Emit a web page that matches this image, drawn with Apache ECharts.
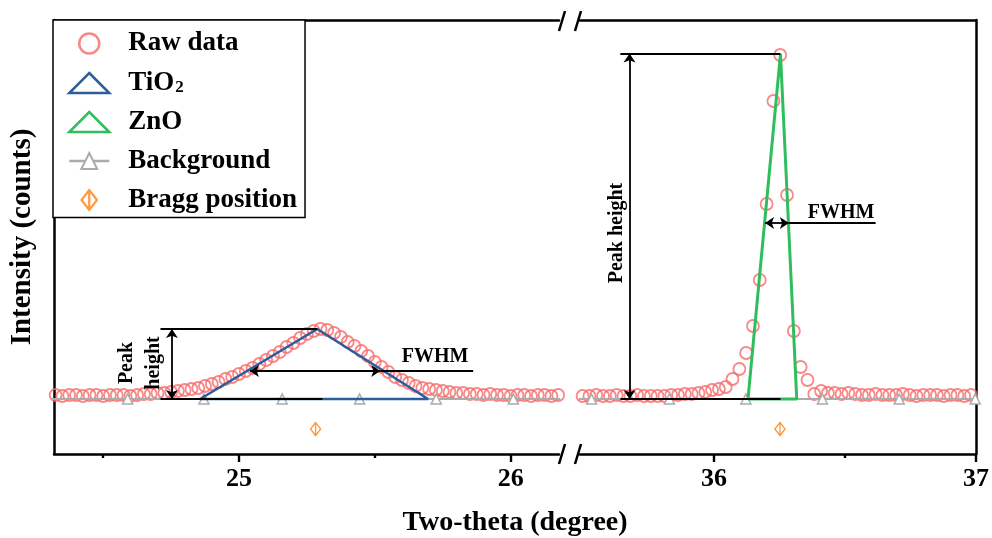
<!DOCTYPE html>
<html><head><meta charset="utf-8">
<script src="https://cdn.jsdelivr.net/npm/echarts@6/dist/echarts.min.js"></script>
<style>html,body{margin:0;padding:0;background:#fff}#c{width:992px;height:538px}</style>
</head><body><div id="c"></div>
<script>
// ---------- data ----------
const leftTheta = [24.325,24.350,24.375,24.400,24.425,24.450,24.475,24.500,24.525,24.550,24.575,24.600,24.625,24.650,24.675,24.700,24.725,24.750,24.775,24.800,24.825,24.850,24.875,24.900,24.925,24.950,24.975,25.000,25.025,25.050,25.075,25.100,25.125,25.150,25.175,25.200,25.225,25.250,25.275,25.300,25.325,25.350,25.375,25.400,25.425,25.450,25.475,25.500,25.525,25.550,25.575,25.600,25.625,25.650,25.675,25.700,25.725,25.750,25.775,25.800,25.825,25.850,25.875,25.900,25.925,25.950,25.975,26.000,26.025,26.050,26.075,26.100,26.125,26.150,26.175];
const leftRaw = [4,3,4,4,3,4,4,3,4,4,4,3,4,5,5,6,6,7,8,9,10,11,13,15,17,20,22,25,28,31,35,39,43,47,52,56,61,65,68,70,69,66,62,57,53,48,43,37,32,27,22,19,16,13,11,10,9,8,7,6,6,5,5,4,5,4,4,3,4,4,3,4,4,3,4];
const rightTheta = [35.499,35.525,35.551,35.577,35.603,35.629,35.655,35.681,35.707,35.733,35.759,35.785,35.811,35.837,35.863,35.889,35.915,35.941,35.967,35.993,36.019,36.045,36.071,36.097,36.123,36.149,36.175,36.201,36.227,36.253,36.279,36.305,36.331,36.357,36.383,36.409,36.435,36.461,36.487,36.513,36.539,36.565,36.591,36.617,36.643,36.669,36.695,36.721,36.747,36.773,36.799,36.825,36.851,36.877,36.903,36.929,36.955,36.981];
const rightRaw = [3,3,4,3,3,4,3,3,4,3,3,3,3,4,4,5,5,6,7,9,10,12,20,30,46,73,119,195,298,344,204,68,32,19,5,8,6,6,5,6,5,4,4,5,4,4,4,5,4,3,4,4,4,3,4,4,3,4];
const tio2Theta = [24.857,25.288,25.696,24.857];
const tio2Value = [0,70,0,0];
const znoTheta = [36.130,36.254,36.316,36.130];
const znoValue = [0,345,0,0];
const bgLeftTheta = [24.306,24.590,24.871,25.159,25.444,25.726,26.010,26.294];
const bgRightTheta = [35.240,35.533,35.830,36.122,36.414,36.707,36.997,37.290];
const bgLevel = 0;
const braggLeftTheta = [25.282];
const braggRightTheta = [36.252];
const braggLevel = -30;
const leftMajorTicks = [25,26];
const leftMinorTicks = [24.5,25.5];
const rightMajorTicks = [36,37];
const rightMinorTicks = [36.5];
const leftRange = [24.319,26.178];
const rightRange = [35.489,37];
const yRange = [-55,379];
// annotation values (data coords)
const tio2PeakH = {x:24.753, top:70, lineFrom:24.711, lineTo:25.288, baseTo:25.307};
const tio2Fwhm = {y:28, from:25.04, to:25.52, ext:25.862};
const znoPeakH = {x:35.678, top:345.5, lineFrom:35.643, lineTo:36.254, baseTo:36.254};
const znoFwhm = {y:176, from:36.195, to:36.286, ext:36.617};

// ---------- styles ----------
const SERIF = "'Liberation Serif','Times New Roman',serif";
const RED = '#f76a6a', BLUE = '#2c5e9c', GREEN = '#2fbd5d', GRAY = '#ababab', ORANGE = '#ff7f0e';
const BRAGG_PATH = 'path://M5,0 L10,6.5 L5,13 L0,6.5 Z M5,0 L5,13';

const zip = (xs, ys) => xs.map((x, i) => [x, ys[i]]);
const flat = (xs, v) => xs.map(x => [x, v]);

function mline(pairs) {
  return {
    silent: true, animation: false,
    symbol: 'none', symbolSize: 9,
    label: {show: false},
    lineStyle: {color: '#000', width: 1.8, type: 'solid'},
    emphasis: {disabled: true},
    data: pairs
  };
}
const seg = (x1, y1, x2, y2, a1, a2) => [
  {coord: [x1, y1], symbol: a1 ? 'arrow' : 'none'},
  {coord: [x2, y2], symbol: a2 ? 'arrow' : 'none'}
];

const chart = echarts.init(document.getElementById('c'), null, {renderer: 'canvas'});

const axisLineStyle = {show: true, onZero: false, lineStyle: {color: '#000', width: 2.5}};
const labelStyle = {fontSize: 26, fontWeight: 'bold', fontFamily: SERIF, color: '#000'};

function tickAxis(gi, range, values, len) {
  return {gridIndex: gi, type: 'value', min: range[0], max: range[1], position: 'bottom',
    axisLine: {show: false, onZero: false},
    axisTick: {show: true, customValues: values, length: len, lineStyle: {color: '#000', width: 2.4}},
    axisLabel: {show: false}, splitLine: {show: false}};
}
function xAxes(gi, range, major, minor) {
  return [
    {gridIndex: gi, type: 'value', min: range[0], max: range[1], position: 'bottom',
     axisLine: axisLineStyle,
     axisTick: {show: false},
     axisLabel: Object.assign({show: true, customValues: major, margin: 12}, labelStyle),
     splitLine: {show: false}},
    tickAxis(gi, range, major, 8),
    tickAxis(gi, range, minor, 4),
    {gridIndex: gi, type: 'value', min: range[0], max: range[1], position: 'top',
     axisLine: axisLineStyle, axisTick: {show: false}, axisLabel: {show: false}, splitLine: {show: false}}
  ];
}

const option = {
  animation: false,
  backgroundColor: '#fff',
  grid: [
    {left: 53, right: 433, top: 20, bottom: 84},
    {left: 580, right: 13, top: 20, bottom: 84}
  ],
  xAxis: xAxes(0, leftRange, leftMajorTicks, leftMinorTicks).concat(xAxes(1, rightRange, rightMajorTicks, rightMinorTicks)),
  yAxis: [
    {gridIndex: 0, type: 'value', min: yRange[0], max: yRange[1], position: 'left',
     axisLine: axisLineStyle, axisTick: {show: false}, axisLabel: {show: false}, splitLine: {show: false},
     name: 'Intensity (counts)', nameLocation: 'middle', nameGap: 17,
     nameTextStyle: {fontSize: 29, fontWeight: 'bold', fontFamily: SERIF, color: '#000'}},
    {gridIndex: 1, type: 'value', min: yRange[0], max: yRange[1], position: 'right',
     axisLine: axisLineStyle, axisTick: {show: false}, axisLabel: {show: false}, splitLine: {show: false}}
  ],
  legend: {
    orient: 'vertical', left: 53, top: 20,
    padding: [10, 8, 4, 15],
    itemGap: 12, itemWidth: 40, itemHeight: 20,
    borderColor: '#000', borderWidth: 1.5, backgroundColor: '#fff',
    selectedMode: false,
    textStyle: {fontSize: 27, fontWeight: 'bold', fontFamily: SERIF, color: '#000', lineHeight: 26, padding: [0, 0, 0, 14],
      rich: {s: {fontSize: 17, fontWeight: 'bold', fontFamily: SERIF, color: '#000', verticalAlign: 'bottom', lineHeight: 22, padding: [10, 0, 0, 1]}}},
    formatter: n => n === 'TiO2' ? 'TiO{s|2}' : n,
    data: [
      {name: 'Raw data', icon: 'circle', itemStyle: {color: '#fff', borderColor: RED, borderWidth: 2.5}},
      {name: 'TiO2', icon: 'triangle', itemStyle: {color: '#fff', borderColor: BLUE, borderWidth: 2.5}},
      {name: 'ZnO', icon: 'triangle', itemStyle: {color: '#fff', borderColor: GREEN, borderWidth: 2.5}},
      {name: 'Background', itemStyle: {color: '#fff', borderColor: GRAY, borderWidth: 2}, lineStyle: {color: GRAY, width: 2.5}},
      {name: 'Bragg position', icon: BRAGG_PATH, itemStyle: {color: 'rgba(0,0,0,0)', borderColor: ORANGE, borderWidth: 2.2}}
    ]
  },
  series: [
    {name: 'Raw data', type: 'scatter', xAxisIndex: 0, yAxisIndex: 0, data: zip(leftTheta, leftRaw),
     symbol: 'circle', symbolSize: 12, clip: true, z: 2,
     itemStyle: {color: 'rgba(0,0,0,0)', borderColor: RED, borderWidth: 1.8}},
    {name: 'Raw data', type: 'scatter', xAxisIndex: 4, yAxisIndex: 1, data: zip(rightTheta, rightRaw),
     symbol: 'circle', symbolSize: 12, clip: true, z: 2,
     itemStyle: {color: 'rgba(0,0,0,0)', borderColor: RED, borderWidth: 1.8}},
    {name: 'Background', type: 'line', xAxisIndex: 0, yAxisIndex: 0, data: flat(bgLeftTheta, bgLevel),
     symbol: 'triangle', symbolSize: 10, showAllSymbol: true, clip: true, z: 3,
     lineStyle: {color: GRAY, width: 2}, itemStyle: {color: '#fff', borderColor: GRAY, borderWidth: 1.5}},
    {name: 'Background', type: 'line', xAxisIndex: 4, yAxisIndex: 1, data: flat(bgRightTheta, bgLevel),
     symbol: 'triangle', symbolSize: 10, showAllSymbol: true, clip: true, z: 3,
     lineStyle: {color: GRAY, width: 2}, itemStyle: {color: '#fff', borderColor: GRAY, borderWidth: 1.5}},
    {name: 'TiO2', type: 'line', xAxisIndex: 0, yAxisIndex: 0, data: zip(tio2Theta, tio2Value),
     symbol: 'none', z: 4, lineStyle: {color: BLUE, width: 2.6}, itemStyle: {color: BLUE},
     markLine: mline([
       seg(tio2PeakH.lineFrom, tio2PeakH.top, tio2PeakH.lineTo, tio2PeakH.top, false, false),
       seg(tio2PeakH.lineFrom, 0, tio2PeakH.baseTo, 0, false, false),
       seg(tio2PeakH.x, 0, tio2PeakH.x, tio2PeakH.top, true, true),
       seg(tio2Fwhm.from, tio2Fwhm.y, tio2Fwhm.to, tio2Fwhm.y, true, true),
       seg(tio2Fwhm.to, tio2Fwhm.y, tio2Fwhm.ext, tio2Fwhm.y, false, false)
     ])},
    {name: 'ZnO', type: 'line', xAxisIndex: 4, yAxisIndex: 1, data: zip(znoTheta, znoValue),
     symbol: 'none', z: 4, lineStyle: {color: GREEN, width: 3}, itemStyle: {color: GREEN},
     markLine: mline([
       seg(znoPeakH.lineFrom, znoPeakH.top, znoPeakH.lineTo, znoPeakH.top, false, false),
       seg(znoPeakH.lineFrom, 0, znoPeakH.baseTo, 0, false, false),
       seg(znoPeakH.x, 0, znoPeakH.x, znoPeakH.top, true, true),
       seg(znoFwhm.from, znoFwhm.y, znoFwhm.to, znoFwhm.y, true, true),
       seg(znoFwhm.to, znoFwhm.y, znoFwhm.ext, znoFwhm.y, false, false)
     ])},
    {name: 'Bragg position', type: 'scatter', xAxisIndex: 0, yAxisIndex: 0, data: flat(braggLeftTheta, braggLevel),
     symbol: BRAGG_PATH, symbolSize: [10, 13], z: 5,
     itemStyle: {color: 'rgba(0,0,0,0)', borderColor: ORANGE, borderWidth: 1.5}},
    {name: 'Bragg position', type: 'scatter', xAxisIndex: 4, yAxisIndex: 1, data: flat(braggRightTheta, braggLevel),
     symbol: BRAGG_PATH, symbolSize: [10, 13], z: 5,
     itemStyle: {color: 'rgba(0,0,0,0)', borderColor: ORANGE, borderWidth: 1.5}}
  ]
};
chart.setOption(option);

// ---------- annotations positioned through the axes ----------
const px = (xi, yi, x, y) => chart.convertToPixel({xAxisIndex: xi, yAxisIndex: yi}, [x, y]);
const annFont = {fontSize: 20, fontWeight: 'bold', fontFamily: SERIF, fill: '#000'};
function txt(p, text, rot, extra) {
  return {type: 'text', x: p[0], y: p[1], rotation: rot || 0, z: 100,
    style: Object.assign({text: text, align: 'center', verticalAlign: 'middle', textAlign: 'center', textVerticalAlign: 'middle'}, annFont, extra || {})};
}
const gl = chart.getModel().getComponent('grid', 0).coordinateSystem.getRect();
const gr = chart.getModel().getComponent('grid', 1).coordinateSystem.getRect();
const midX = (gl.x + gr.x + gr.width) / 2;
const topY = gl.y, botY = gl.y + gl.height;
const breakA = gl.x + gl.width, breakB = gr.x;
function slash(cx, cy) {
  return {type: 'line', z: 100, shape: {x1: cx - 3, y1: cy + 10, x2: cx + 3, y2: cy - 10}, style: {stroke: '#000', lineWidth: 2.5}};
}
chart.setOption({
  graphic: [
    txt(px(0, 0, 24.635, 36), 'Peak\nheight', Math.PI / 2, {lineHeight: 27}),
    txt(px(0, 0, 25.722, 42), 'FWHM'),
    txt(px(4, 1, 35.629, 166), 'Peak height', Math.PI / 2),
    txt(px(4, 1, 36.485, 186), 'FWHM'),
    txt([midX, 523], 'Two-theta (degree)', 0, {fontSize: 28}),
    slash(breakA + 3, topY + 1), slash(breakB - 2, topY + 1),
    slash(breakA + 3, botY), slash(breakB - 2, botY)
  ]
});
</script></body></html>
